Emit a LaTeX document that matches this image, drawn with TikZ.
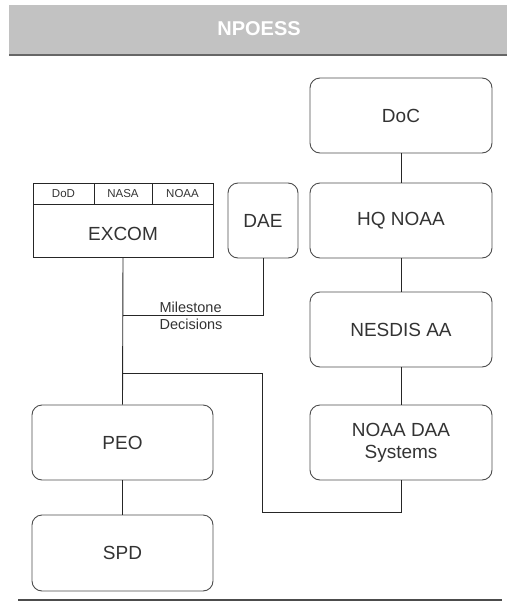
\documentclass[tikz,border=0pt]{standalone}
\usepackage{fontspec}
\setmainfont{Liberation Sans}
\begin{document}
\begin{tikzpicture}[x=1pt,y=-1pt,
  rbox/.style={draw=black!70, line width=0.9pt, rounded corners=10pt, minimum width=182pt, minimum height=75pt, inner sep=0pt, align=center, font=\fontsize{19}{22}\selectfont, text=black!80},
  hdr/.style={draw=black!85, line width=0.9pt, minimum height=21pt, inner sep=0pt, font=\fontsize{11.5}{13}\selectfont, text=black!80},
  conn/.style={draw=black!85, line width=0.9pt}]
\useasboundingbox (0,0) rectangle (507,608);
% banner
\fill[gray!48] (9,5) rectangle (507,55);
\draw[black!60, line width=1.2pt] (9,55) -- (507,55);
\node[font=\bfseries\fontsize{20}{22}\selectfont, text=white] (title) at (259,29) {NPOESS};
% bottom rule
\draw[black!70, line width=1.8pt] (18,600) -- (502,600);
% right column
\node[rbox] (doc) at (401,115.5) {DoC};
\node[rbox] (hq) at (401,220.5) {HQ NOAA};
\node[rbox] (nesdis) at (401,329.5) {NESDIS AA};
\node[rbox] (daa) at (401,442.5) {NOAA DAA\\Systems};
% left column
\node[rbox, minimum width=181pt] (peo) at (122.5,442.5) {PEO};
\node[rbox, minimum width=181pt, minimum height=76pt] (spd) at (122.5,553) {SPD};
\node[rbox, minimum width=70pt] (dae) at (263,220.5) {DAE};
% EXCOM
\node[draw=black!85, line width=0.9pt, minimum width=180pt, minimum height=74pt, inner sep=0pt] (excom) at (123,220) {};
\node[font=\fontsize{19}{22}\selectfont, text=black!80] (excomlbl) at (123,234) {EXCOM};
\node[hdr, minimum width=61pt] (dod) at (63.5,193.5) {DoD};
\node[hdr, minimum width=58pt] (nasa) at (123,193.5) {NASA};
\node[hdr, minimum width=61pt] (noaa) at (182.5,193.5) {NOAA};
% connectors
\draw[conn] (doc) -- (hq);
\draw[conn] (hq) -- (nesdis);
\draw[conn] (nesdis) -- (daa);
\draw[conn] (peo) -- (spd);
\draw[conn] (excom.south) -- (peo.north);
\coordinate (m1) at (123,315);
\draw[conn] (dae.south) |- (m1);
\coordinate (j) at (123,373);
\coordinate (c1) at (262,512);
\draw[conn] (j) -| (c1) -| (daa.south);
\node[font=\fontsize{14.5}{17}\selectfont, text=black!80, align=left, anchor=west] (ms) at (156,316) {Milestone\\Decisions};
\end{tikzpicture}
\end{document}
